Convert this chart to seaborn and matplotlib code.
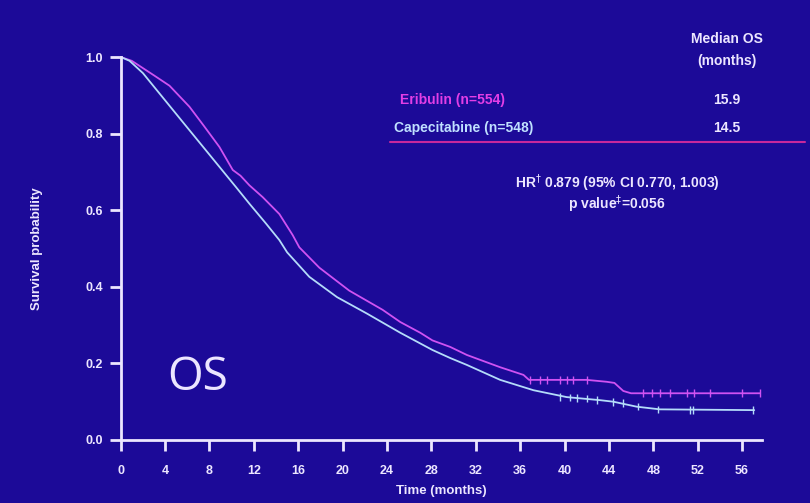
import numpy as np
import pandas as pd
import matplotlib
matplotlib.use("Agg")
import matplotlib.pyplot as plt
import seaborn as sns

# ---- data ----
eri_t = [0, 1.0, 2.0, 3.0, 4.4, 6.2, 7.5, 8.9, 10.1, 10.8, 11.6, 12.8, 14.3, 15.5, 16.1, 17.9,
         20.6, 23.6, 25.2, 27.0, 28.1, 29.7, 31.2, 34.2, 36.3, 36.8, 42.0, 43.8, 44.5,
         45.3, 46.0, 57.6]
eri_s = [1.0, 0.99, 0.971, 0.952, 0.925, 0.87, 0.82, 0.765, 0.705, 0.69, 0.665, 0.634, 0.59,
         0.535, 0.503, 0.45, 0.39, 0.34, 0.308, 0.28, 0.26, 0.243, 0.222, 0.19, 0.17,
         0.157, 0.157, 0.152, 0.149, 0.128, 0.122, 0.122]
cap_t = [0, 0.8, 2.0, 3.8, 5.6, 8.0, 10.4, 11.6, 13.1, 14.3, 15.0, 17.0, 19.5, 22.2, 25.2,
         28.1, 29.7, 31.2, 34.2, 37.2, 40.2, 43.2, 44.4, 46.5, 48.6, 57.1]
cap_s = [1.0, 0.99, 0.958, 0.894, 0.83, 0.745, 0.66, 0.617, 0.565, 0.522, 0.49, 0.426, 0.373,
         0.33, 0.28, 0.235, 0.214, 0.196, 0.157, 0.13, 0.112, 0.104, 0.10, 0.087, 0.08, 0.078]

eri_cens_t = [36.9, 37.8, 38.4, 39.6, 40.2, 40.8, 42.0, 47.1, 47.9, 48.6, 49.5, 51.0, 51.7, 53.1, 56.0, 57.6]
eri_cens_s = [0.157, 0.157, 0.157, 0.157, 0.157, 0.157, 0.157, 0.122, 0.122, 0.122, 0.122, 0.122, 0.122, 0.122, 0.122, 0.122]
cap_cens_t = [39.6, 40.5, 41.1, 42.0, 42.9, 44.4, 45.3, 46.6, 48.4, 51.3, 51.6, 57.0]
cap_cens_s = [0.113, 0.111, 0.110, 0.108, 0.105, 0.100, 0.096, 0.087, 0.080, 0.079, 0.079, 0.078]

x_ticks = list(range(0, 57, 4))
y_ticks = [0.0, 0.2, 0.4, 0.6, 0.8, 1.0]

arm_names = ["Eribulin (n=554)", "Capecitabine (n=548)"]
medians = ["15.9", "14.5"]

BG = "#1c0a98"
FG = "#ece6ff"
MAG = "#d052f2"
CYA = "#b4dcfa"
MAG_TXT = "#e23ee6"
CYA_TXT = "#bfe0ff"

df = pd.concat([
    pd.DataFrame({"t": eri_t, "s": eri_s, "arm": arm_names[0]}),
    pd.DataFrame({"t": cap_t, "s": cap_s, "arm": arm_names[1]}),
])
cens = pd.concat([
    pd.DataFrame({"t": eri_cens_t, "s": eri_cens_s, "arm": arm_names[0]}),
    pd.DataFrame({"t": cap_cens_t, "s": cap_cens_s, "arm": arm_names[1]}),
])

sns.set_style("ticks")
plt.rcParams["font.family"] = ["Liberation Sans", "DejaVu Sans"]

fig = plt.figure(figsize=(8.1, 5.03), dpi=100, facecolor=BG)
ax = fig.add_axes([120.7 / 810, 63 / 503, (762 - 120.7) / 810, (440 - 57) / 503])
ax.set_facecolor(BG)

pal = {arm_names[0]: MAG, arm_names[1]: CYA}
sns.lineplot(data=df, x="t", y="s", hue="arm", palette=pal, estimator=None, sort=False,
             linewidth=1.3, legend=False, ax=ax, clip_on=False)
sns.scatterplot(data=cens, x="t", y="s", hue="arm", palette=pal, marker="|", s=30,
                linewidth=1.0, legend=False, ax=ax, clip_on=False)

ax.set_xlim(0, 57.8)
ax.set_ylim(0, 1.0)
ax.set_xticks(x_ticks)
ax.set_yticks(y_ticks)
ax.set_yticklabels([f"{v:.1f}" for v in y_ticks])
for sp in ["top", "right"]:
    ax.spines[sp].set_visible(False)
for sp in ["left", "bottom"]:
    ax.spines[sp].set_color(FG)
    ax.spines[sp].set_linewidth(2.0)
ax.tick_params(axis="both", colors=FG, width=2.0, length=8, labelsize=9)
ax.tick_params(axis="x", pad=10)
ax.tick_params(axis="y", pad=5)
for lab in ax.get_xticklabels() + ax.get_yticklabels():
    lab.set_fontweight("bold")
    lab.set_color(FG)
ax.set_xlabel("Time (months)", color=FG, fontsize=9.5, fontweight="bold", labelpad=6)
ax.set_ylabel("Survival probability", color=FG, fontsize=9.5, fontweight="bold", labelpad=30)

def fx(px):
    return px / 810
def fy(py):
    return 1 - py / 503

fs = 10
fig.text(fx(727), fy(39), "Median OS", color=FG, fontsize=fs, fontweight="bold", ha="center", va="center")
fig.text(fx(727), fy(61), "(months)", color=FG, fontsize=fs, fontweight="bold", ha="center", va="center")
fig.text(fx(400), fy(100), arm_names[0], color=MAG_TXT, fontsize=fs, fontweight="bold", ha="left", va="center")
fig.text(fx(394), fy(128), arm_names[1], color=CYA_TXT, fontsize=fs, fontweight="bold", ha="left", va="center")
fig.text(fx(727), fy(100), medians[0], color=FG, fontsize=fs, fontweight="bold", ha="center", va="center")
fig.text(fx(727), fy(128), medians[1], color=FG, fontsize=fs, fontweight="bold", ha="center", va="center")
fig.add_artist(plt.Line2D([fx(390), fx(805)], [fy(142), fy(142)], color="#c8289c", linewidth=1.5))

fig.text(fx(617), fy(183), "HR$^{\\dagger}$ 0.879 (95% CI 0.770, 1.003)", color=FG, fontsize=fs,
         fontweight="bold", ha="center", va="center")
fig.text(fx(617), fy(204), "p value$^{\\ddagger}$=0.056", color=FG, fontsize=fs,
         fontweight="bold", ha="center", va="center")

fig.text(fx(198), fy(378), "OS", color=FG, fontsize=33, family=["Open Sans", "DejaVu Sans"],
         ha="center", va="center")

fig.savefig("out.png", dpi=100, facecolor=BG)
